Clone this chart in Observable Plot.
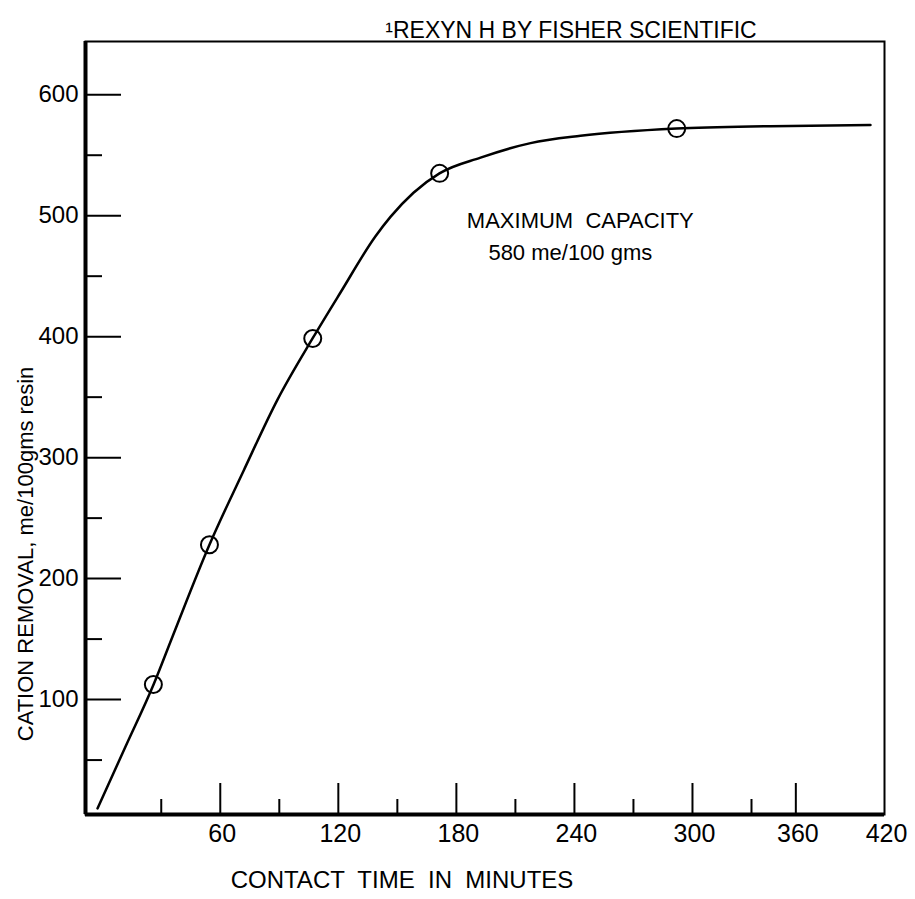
<!DOCTYPE html>
<html><head><meta charset="utf-8">
<script src="https://cdn.jsdelivr.net/npm/d3@7"></script>
<script src="https://cdn.jsdelivr.net/npm/@observablehq/plot@0.6"></script>
<style>body{margin:0;background:#fff}</style>
</head><body><div id="chart"></div>
<script>
// Measured points (contact time in minutes, cation removal in me/100 gms resin)
const pointTime = [26, 54.5, 107, 171.5, 292];
const pointRemoval = [112.5, 228, 398.5, 535, 572];

// Hand-drawn fitted curve, read along its path
const curveTime = [-2.4, 11.8, 26.1, 35.7, 54.5, 71.8, 89.1, 106.9, 121.1, 138.9, 146.5, 158.2, 171.4, 192.3, 217.7, 243.1, 291.9, 342.9, 410.5];
const curveRemoval = [10, 61, 112.5, 152, 228, 289, 348, 398.5, 436.5, 483, 499, 519, 535, 548, 560, 566, 572, 574, 575];

// Axis ticks
const xTicksMajor = [60, 120, 180, 240, 300, 360];
const xTicksMinor = [30, 90, 150, 210, 270, 330];
const xTickLabels = [60, 120, 180, 240, 300, 360, 420];
const yTicksMajor = [100, 200, 300, 400, 500, 600];
const yTicksMinor = [50, 150, 250, 350, 450, 550];

// Texts
const titleText = "\u00B9REXYN H BY FISHER SCIENTIFIC";
const xTitle = "CONTACT  TIME  IN  MINUTES";
const yTitle = "CATION REMOVAL, me/100gms resin";
const noteLine1 = "MAXIMUM  CAPACITY";
const noteLine2 = "580 me/100 gms";
const noteX = [243];
const noteY1 = [496];
const noteY2 = [469];

// Scale set-up (hand-drawn axis is slightly compressed at the right end)
const xDomain = [-8.5, 330, 420];
const yDomain = [5, 644];

const points = pointTime.map((t, i) => ({t, r: pointRemoval[i]}));
const curve = curveTime.map((t, i) => ({t, r: curveRemoval[i]}));

const font = "'Liberation Sans', Arial, sans-serif";
const blank = () => "";

const chart = Plot.plot({
  width: 915,
  height: 899,
  marginLeft: 85,
  marginRight: 31,
  marginTop: 41,
  marginBottom: 85,
  style: {fontFamily: font, background: "#fff", color: "#000", overflow: "visible"},
  x: {type: "linear", domain: xDomain, range: [85, 751, 884]},
  y: {type: "linear", domain: yDomain, range: [814, 41]},
  marks: [
    Plot.frame({stroke: "#000", strokeWidth: 2}),
    Plot.ruleX([xDomain[0]], {stroke: "#000", strokeWidth: 4}),
    Plot.ruleY([yDomain[0]], {stroke: "#000", strokeWidth: 4}),
    // inward ticks
    Plot.axisY(yTicksMajor, {anchor: "left", tickSize: 36, insetLeft: 36, tickFormat: blank, label: null, strokeWidth: 2}),
    Plot.axisY(yTicksMinor, {anchor: "left", tickSize: 17, insetLeft: 17, tickFormat: blank, label: null, strokeWidth: 2}),
    Plot.axisX(xTicksMajor, {anchor: "bottom", tickSize: 31, insetBottom: 31, tickFormat: blank, label: null, strokeWidth: 2}),
    Plot.axisX(xTicksMinor, {anchor: "bottom", tickSize: 15, insetBottom: 15, tickFormat: blank, label: null, strokeWidth: 2}),
    // tick labels
    Plot.axisY(yTicksMajor, {anchor: "left", tickSize: 0, tickPadding: 7, fontSize: 24, label: null}),
    Plot.axisX(xTickLabels, {anchor: "bottom", tickSize: 0, tickPadding: 10, fontSize: 25, label: null, dx: 2}),
    // curve and points
    Plot.line(curve, {x: "t", y: "r", curve: "monotone-x", stroke: "#000", strokeWidth: 2.5}),
    Plot.dot(points, {x: "t", y: "r", r: 8.5, stroke: "#000", strokeWidth: 2, fill: "none"}),
    // annotations
    Plot.text([noteLine1], {x: noteX, y: noteY1, fontSize: 22, fill: "#000", letterSpacing: "1px"}),
    Plot.text([noteLine2], {x: noteX, y: noteY2, fontSize: 22, fill: "#000", dx: -10}),
    // titles
    Plot.text([titleText], {frameAnchor: "top", lineAnchor: "bottom", dy: -4, dx: 86, fontSize: 23, fill: "#000"}),
    Plot.text([xTitle], {frameAnchor: "bottom", lineAnchor: "middle", dy: 66, dx: -83, fontSize: 24, fill: "#000"}),
    Plot.text([yTitle], {frameAnchor: "left", textAnchor: "middle", rotate: -90, dx: -60, dy: 126, fontSize: 22, fill: "#000"})
  ]
});
document.getElementById("chart").appendChild(chart);
</script>
</body></html>
